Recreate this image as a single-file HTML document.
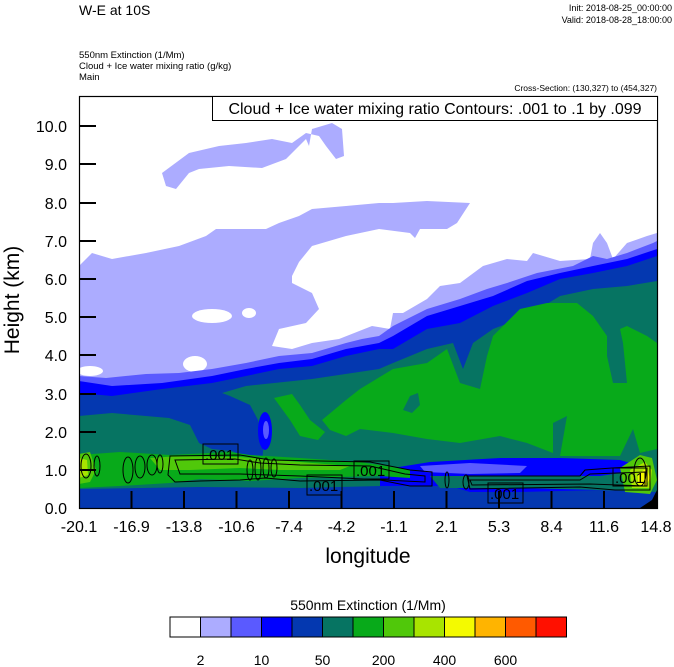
<!DOCTYPE html>
<html><head><meta charset="utf-8"><style>
body{margin:0;background:#fff;}
svg{display:block;font-family:"Liberation Sans",sans-serif;}
</style></head><body>
<svg width="674" height="667" viewBox="0 0 674 667" xmlns="http://www.w3.org/2000/svg">
<rect width="674" height="667" fill="#fff"/>
<text x="79" y="15" font-size="14">W-E at 10S</text>
<text x="672" y="11" font-size="9" text-anchor="end">Init: 2018-08-25_00:00:00</text>
<text x="672" y="23" font-size="9" text-anchor="end">Valid: 2018-08-28_18:00:00</text>
<text x="79" y="58" font-size="9.5">550nm Extinction   (1/Mm)</text>
<text x="79" y="69" font-size="9.5">Cloud + Ice water mixing ratio   (g/kg)</text>
<text x="79" y="80" font-size="9.5">Main</text>
<text x="657" y="91" font-size="8.5" text-anchor="end">Cross-Section: (130,327) to (454,327)</text>

<defs><clipPath id="c"><rect x="79" y="96" width="578" height="412"/></clipPath></defs>
<g clip-path="url(#c)">
<rect x="79" y="96" width="578" height="412" fill="#fff"/>
<path fill="#acacff" d="M162,173 L166,186 L176,189 L189,173 L199,169 L229,166 L262,168 L286,159 L306,139 L309,146 L312,129 L332,123 L342,129 L344,156 L336,159 L326,146 L319,136 L306,133 L292,143 L272,139 L246,143 L219,146 L189,153 Z"/>
<path fill="#acacff" d="M79,266 L92,253 L112,259 L146,253 L179,246 L206,236 L216,229 L266,229 L279,223 L299,216 L312,209 L346,206 L379,203 L393,203 L427,201 L470,203 L457,223 L447,229 L420,229 L415,238 L410,233 L379,229 L346,236 L312,246 L299,262 L292,276 L292,283 L312,293 L319,309 L306,323 L279,329 L272,346 L292,349 L312,343 L339,339 L372,326 L390,329 L393,313 L403,313 L427,299 L440,286 L460,283 L483,266 L507,259 L527,261 L533,253 L560,261 L590,259 L593,243 L600,233 L607,243 L613,259 L627,243 L647,236 L657,233 L657,508 L79,508 Z"/>
<ellipse cx="212" cy="316" rx="20" ry="7" fill="#fff"/>
<ellipse cx="249" cy="313" rx="7" ry="5" fill="#fff"/>
<ellipse cx="195" cy="364" rx="12" ry="8" fill="#fff"/>
<ellipse cx="90" cy="371" rx="13" ry="5" fill="#fff"/>
<path fill="#5a5aff" d="M79,376 L106,378 L146,374 L179,373 L212,369 L246,363 L279,356 L312,353 L346,343 L362,339 L379,336 L393,326 L427,309 L460,299 L487,289 L507,283 L537,273 L573,266 L593,256 L607,259 L627,253 L653,243 L657,241 L657,508 L79,508 Z"/>
<path fill="#0000ff" d="M79,381 L112,386 L162,383 L212,376 L246,369 L279,363 L312,359 L346,349 L379,343 L393,336 L427,316 L460,306 L493,296 L527,281 L560,273 L593,266 L627,259 L657,249 L657,508 L79,508 Z"/>
<path fill="#0438b0" d="M79,393 L112,396 L162,389 L212,383 L246,376 L279,369 L312,366 L346,356 L379,349 L393,349 L427,329 L460,323 L493,306 L527,293 L560,279 L593,273 L627,266 L657,256 L657,508 L79,508 Z"/>
<path fill="#067462" d="M79,416 L112,413 L146,416 L169,418 L190,425 L199,443 L212,449 L232,451 L250,459 L262,463 L264,440 L258,420 L250,405 L230,396 L222,393 L246,386 L312,379 L379,369 L393,363 L427,349 L453,343 L463,369 L473,343 L493,329 L527,316 L560,296 L593,289 L627,286 L657,281 L657,508 L79,508 Z"/>
<ellipse cx="265" cy="431" rx="7" ry="19" fill="#0000ff"/>
<ellipse cx="266" cy="430" rx="3" ry="9" fill="#5a5aff"/>
<path fill="#08aa1a" d="M274,398 L292,394 L300,405 L310,420 L325,432 L318,440 L300,436 L290,420 Z"/>
<path fill="#08aa1a" d="M346,400 L360,389 L393,369 L427,363 L447,349 L460,383 L480,389 L487,356 L493,336 L520,309 L547,303 L577,303 L593,316 L607,336 L607,356 L613,383 L627,383 L623,343 L620,329 L627,326 L647,336 L657,343 L657,449 L640,453 L633,429 L620,456 L560,456 L567,416 L553,423 L553,453 L527,443 L500,436 L460,443 L427,439 L393,433 L360,429 L346,436 L330,430 L322,420 Z"/>
<path fill="#067462" d="M403,410 L410,396 L418,393 L420,405 L412,413 Z"/>
<path fill="#0000ff" d="M380,470 L430,462 L500,458 L560,458 L620,460 L640,466 L657,470 L657,508 L380,508 Z"/>
<path fill="#5a5aff" d="M420,466 L470,463 L527,466 L520,473 L470,474 L425,472 Z"/>
<path fill="#0438b0" d="M79,489 L200,487 L300,488 L380,486 L450,486 L470,492 L520,492 L600,490 L657,486 L657,508 L79,508 Z"/>
<path fill="#067462" d="M430,476 L520,476 L600,476 L640,470 L657,466 L657,492 L600,490 L520,488 L440,488 Z"/>
<path fill="#08aa1a" d="M79,455 L120,452 L170,455 L230,452 L250,455 L300,458 L330,460 L360,462 L380,465 L410,470 L410,478 L380,476 L300,478 L250,481 L200,479 L170,483 L120,486 L79,488 Z"/>
<path fill="#50c80a" d="M150,458 L180,456 L240,457 L300,462 L350,466 L340,470 L280,470 L240,468 L190,470 L160,470 Z"/>
<path fill="#50c80a" d="M79,454 L90,452 L96,470 L90,482 L79,484 Z"/>
<path fill="#a8e400" d="M79,458 L87,460 L88,475 L79,478 Z"/>
<path fill="#50c80a" d="M620,468 L640,455 L652,458 L657,480 L650,494 L625,492 Z"/>
<path fill="#a8e400" d="M630,470 L645,462 L652,470 L650,488 L632,488 Z"/>
<path fill="#f4fa00" d="M638,474 L647,468 L650,478 L646,486 L638,484 Z"/>
<path fill="#000" d="M640,508 L652,500 L657,490 L657,508 Z"/>
<g fill="none" stroke="#000" stroke-width="1">
<path d="M170,456 L240,455 L270,460 L370,462 L410,470 L432,472 L432,486 L410,486 L380,480 L300,481 L265,478 L240,480 L200,481 L175,482 L168,475 Z"/>
<path d="M175,460 L235,459 L260,463 L300,465 L370,466 L405,474 L425,476 L425,482 L300,476 L240,474 L180,474 Z"/>
<path d="M467,476 L580,476 L585,470 L612,468 L650,466 L650,490 L615,490 L580,487 L470,489 Z"/>
<path d="M470,480 L580,480 L590,474 L645,472 L645,486 L590,484 L472,485 Z"/>
<ellipse cx="86" cy="466" rx="5" ry="12"/>
<ellipse cx="97" cy="466" rx="3" ry="10"/>
<ellipse cx="128" cy="470" rx="5" ry="13"/>
<ellipse cx="140" cy="467" rx="5" ry="11"/>
<ellipse cx="152" cy="465" rx="5" ry="10"/>
<ellipse cx="160" cy="464" rx="3" ry="9"/>
<ellipse cx="250" cy="470" rx="3" ry="10"/>
<ellipse cx="258" cy="469" rx="3" ry="11"/>
<ellipse cx="266" cy="468" rx="3" ry="10"/>
<ellipse cx="274" cy="468" rx="3" ry="9"/>
<ellipse cx="447" cy="480" rx="2" ry="8"/>
<ellipse cx="466" cy="482" rx="3" ry="7"/>
<ellipse cx="640" cy="472" rx="6" ry="14"/>
</g>
<g fill="none" stroke="#000" stroke-width="1">
<rect x="203" y="444" width="35" height="20"/>
<rect x="307" y="475" width="35" height="20"/>
<rect x="354" y="461" width="35" height="18"/>
<rect x="488" y="483" width="35" height="20"/>
<rect x="613" y="468" width="34" height="18"/>
</g>
<g font-size="15">
<text x="205" y="460">.001</text>
<text x="309" y="491">.001</text>
<text x="356" y="476">.001</text>
<text x="490" y="499">.001</text>
<text x="615" y="483">.001</text>
</g>
</g>
<rect x="79.5" y="96.5" width="578" height="412" fill="none" stroke="#000" stroke-width="1.2"/>
<rect x="212.5" y="96.5" width="445" height="24" fill="#fff" stroke="#000"/>
<text x="435" y="114" font-size="16" text-anchor="middle">Cloud + Ice water mixing ratio Contours: .001 to .1 by .099</text>
<g stroke="#000" stroke-width="2">
<line x1="79" x2="96" y1="470" y2="470"/><line x1="79" x2="96" y1="432" y2="432"/>
<line x1="79" x2="96" y1="394" y2="394"/><line x1="79" x2="96" y1="355" y2="355"/>
<line x1="79" x2="96" y1="317" y2="317"/><line x1="79" x2="96" y1="279" y2="279"/>
<line x1="79" x2="96" y1="241" y2="241"/><line x1="79" x2="96" y1="203" y2="203"/>
<line x1="79" x2="96" y1="164" y2="164"/><line x1="79" x2="96" y1="126" y2="126"/>
<line y1="508" y2="491" x1="131.5" x2="131.5"/><line y1="508" y2="491" x1="184" x2="184"/>
<line y1="508" y2="491" x1="236.5" x2="236.5"/><line y1="508" y2="491" x1="289" x2="289"/>
<line y1="508" y2="491" x1="341.5" x2="341.5"/><line y1="508" y2="491" x1="394" x2="394"/>
<line y1="508" y2="491" x1="446.5" x2="446.5"/><line y1="508" y2="491" x1="499" x2="499"/>
<line y1="508" y2="491" x1="551.5" x2="551.5"/><line y1="508" y2="491" x1="604" x2="604"/>
</g>
<g font-size="16" text-anchor="end">
<text x="67" y="514">0.0</text><text x="67" y="476">1.0</text><text x="67" y="438">2.0</text>
<text x="67" y="400">3.0</text><text x="67" y="361">4.0</text><text x="67" y="323">5.0</text>
<text x="67" y="285">6.0</text><text x="67" y="247">7.0</text><text x="67" y="209">8.0</text>
<text x="67" y="170">9.0</text><text x="67" y="132">10.0</text>
</g>
<g font-size="16" text-anchor="middle">
<text x="79" y="532">-20.1</text><text x="131.5" y="532">-16.9</text><text x="184" y="532">-13.8</text>
<text x="236.5" y="532">-10.6</text><text x="289" y="532">-7.4</text><text x="341.5" y="532">-4.2</text>
<text x="394" y="532">-1.1</text><text x="446.5" y="532">2.1</text><text x="499" y="532">5.3</text>
<text x="551.5" y="532">8.4</text><text x="604" y="532">11.6</text><text x="656" y="532">14.8</text>
</g>
<text x="368" y="563" font-size="21" text-anchor="middle">longitude</text>
<text transform="translate(19,300) rotate(-90)" font-size="21" text-anchor="middle">Height (km)</text>
<text x="368" y="610" font-size="14" text-anchor="middle">550nm Extinction  (1/Mm)</text>
<g stroke="#000" stroke-width="1">
<rect x="170" y="617" width="30.5" height="20" fill="#fff"/>
<rect x="200.5" y="617" width="30.5" height="20" fill="#acacff"/>
<rect x="231" y="617" width="30.5" height="20" fill="#5a5aff"/>
<rect x="261.5" y="617" width="30.5" height="20" fill="#0000ff"/>
<rect x="292" y="617" width="30.5" height="20" fill="#0438b0"/>
<rect x="322.5" y="617" width="30.5" height="20" fill="#067462"/>
<rect x="353" y="617" width="30.5" height="20" fill="#08aa1a"/>
<rect x="383.5" y="617" width="30.5" height="20" fill="#50c80a"/>
<rect x="414" y="617" width="30.5" height="20" fill="#a8e400"/>
<rect x="444.5" y="617" width="30.5" height="20" fill="#f4fa00"/>
<rect x="475" y="617" width="30.5" height="20" fill="#ffb400"/>
<rect x="505.5" y="617" width="30.5" height="20" fill="#ff5a00"/>
<rect x="536" y="617" width="30.5" height="20" fill="#ff1000"/>
</g>
<g font-size="14" text-anchor="middle">
<text x="200.5" y="665">2</text><text x="261.5" y="665">10</text><text x="322.5" y="665">50</text>
<text x="383.5" y="665">200</text><text x="444.5" y="665">400</text><text x="505.5" y="665">600</text>
</g>
</svg>
</body></html>
